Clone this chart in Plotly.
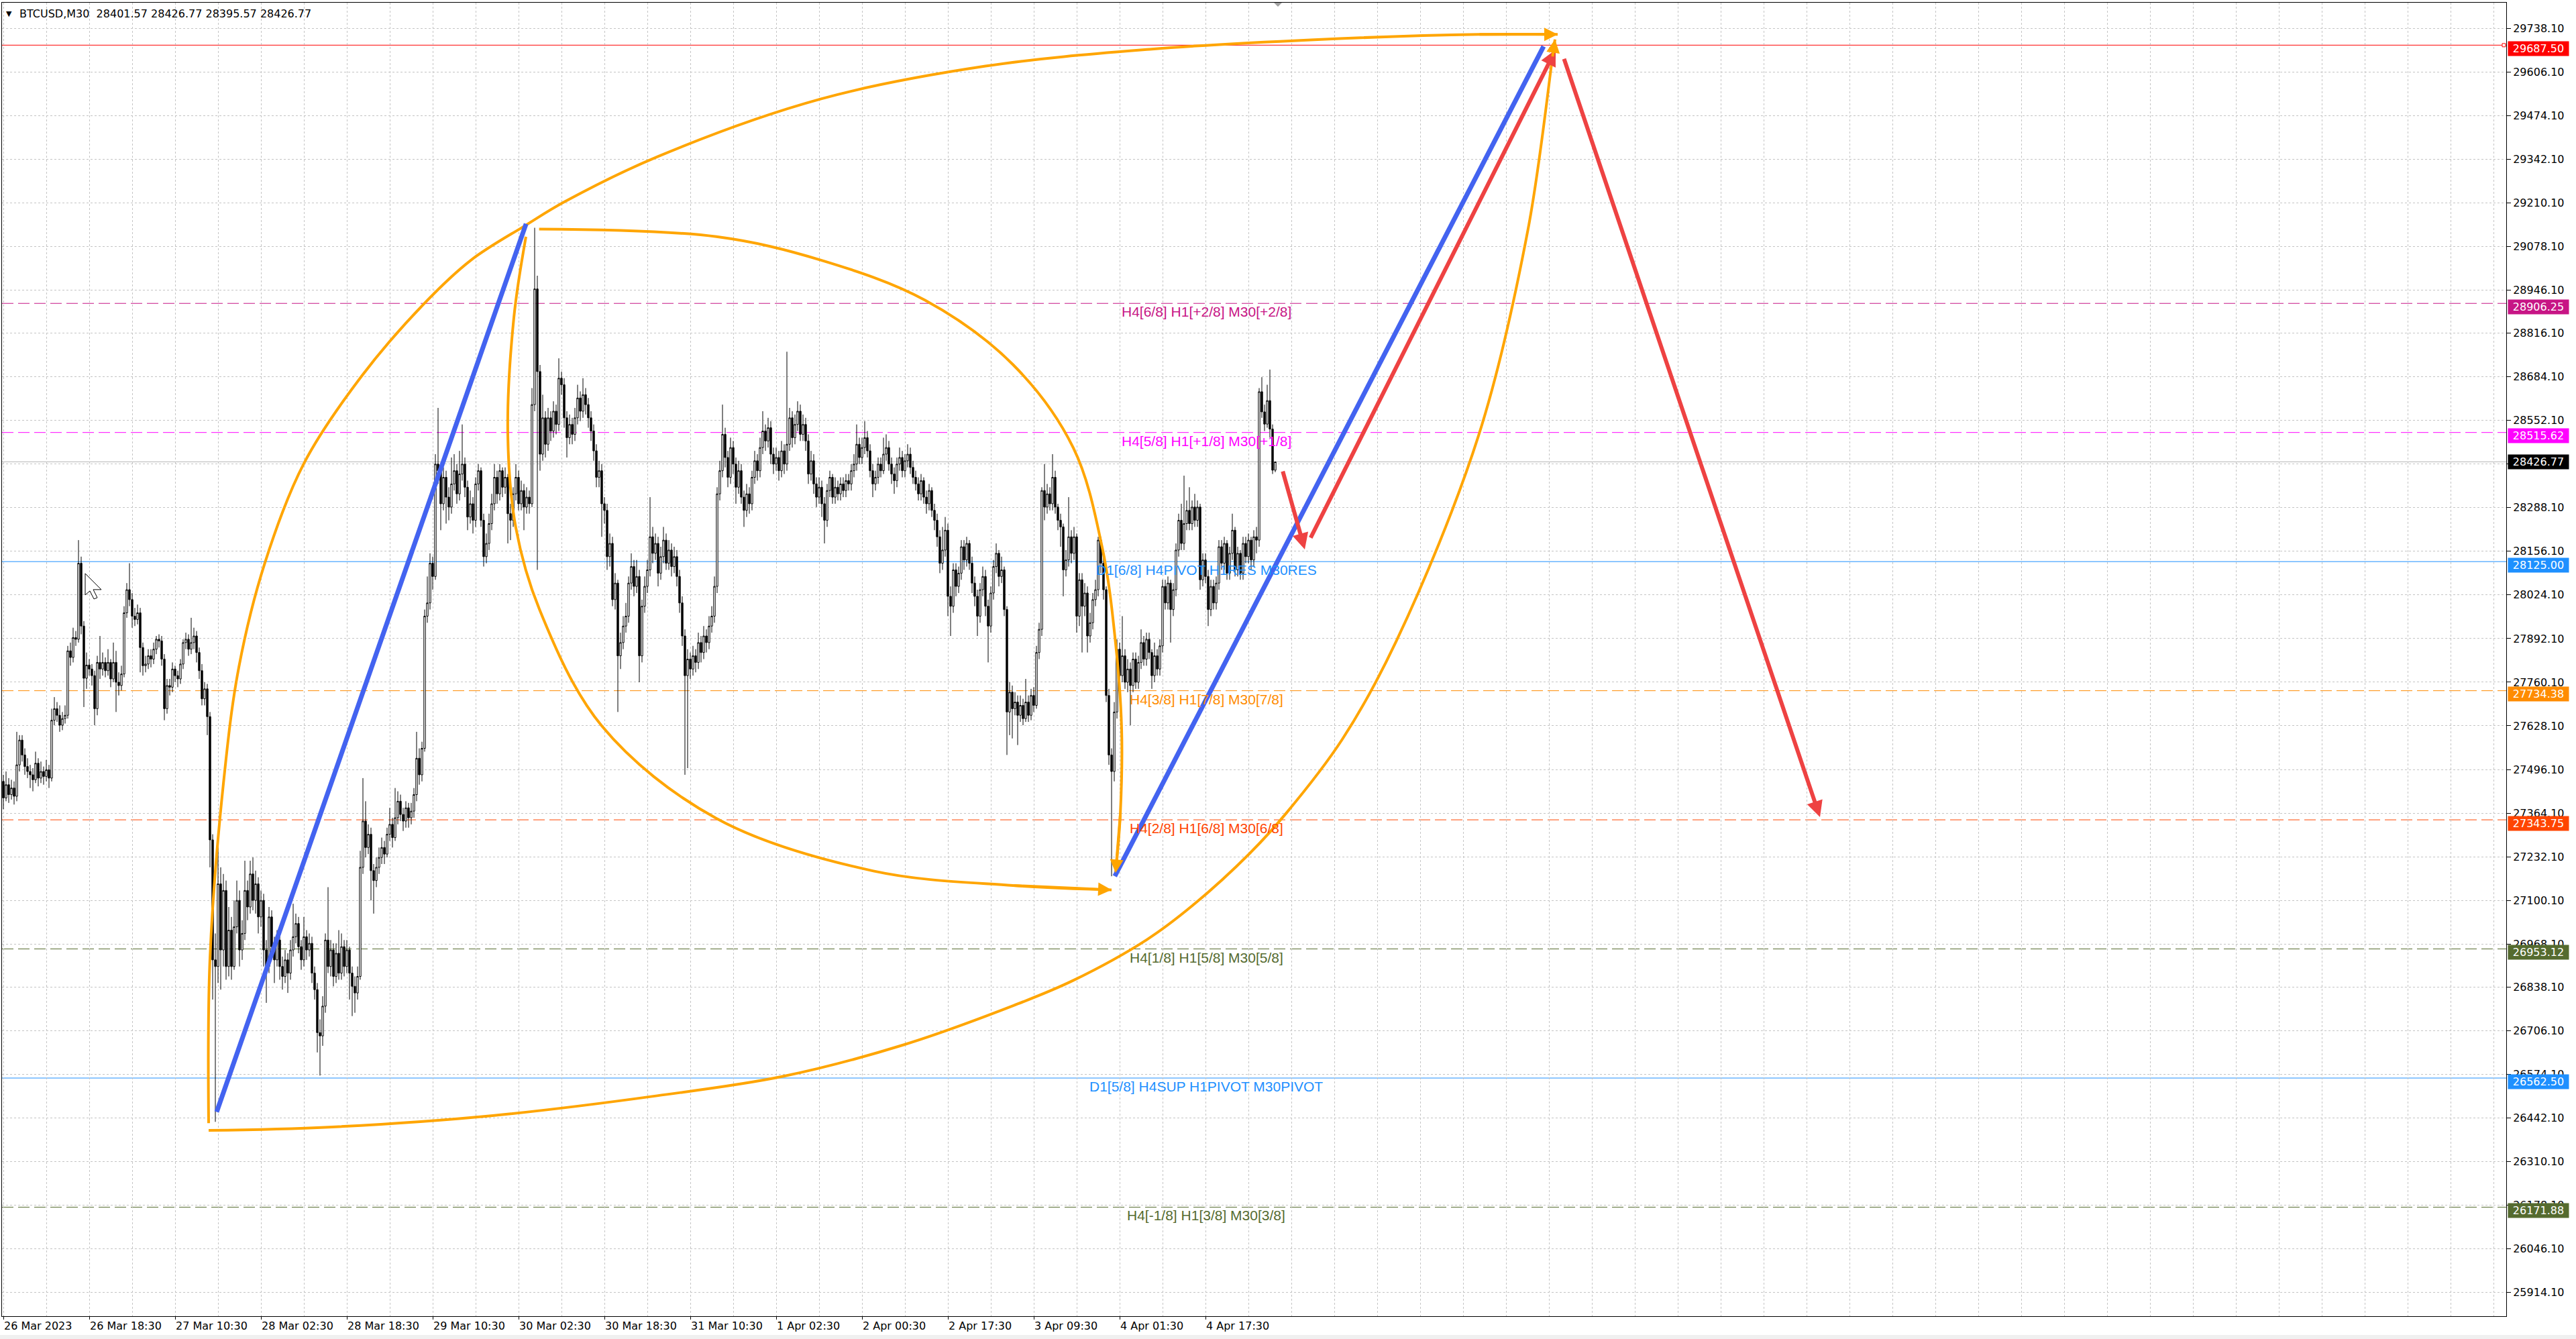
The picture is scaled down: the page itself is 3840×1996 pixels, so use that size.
import plotly.graph_objects as go

# ---------------- data (M30 bars, index 0 = first visible bar) ----------------
OPEN0 = 27460
CLOSE = [
    27410, 27450, 27420, 27440, 27415, 27510, 27585, 27540, 27505, 27490,
    27480, 27465, 27515, 27470, 27490, 27475, 27495, 27470, 27645, 27680,
    27660, 27630, 27650, 27660, 27855, 27835, 27895, 27890, 28120, 27930,
    27772, 27812, 27800, 27780, 27680, 27820, 27800, 27820, 27795, 27820,
    27770, 27820, 27760, 27750, 27785, 27970, 28040, 28010, 27960, 27950,
    27970, 27865, 27810, 27815, 27840, 27830, 27860, 27890, 27885, 27830,
    27680, 27750, 27745, 27800, 27780, 27770, 27815, 27880, 27890, 27860,
    27880, 27900, 27850, 27795, 27710, 27740, 27656, 27283, 26920, 26900,
    27150, 26950, 27130, 26900, 27010, 26900, 27020, 27100, 26950, 27000,
    27130, 27080, 27180, 27100, 27150, 27050, 27100, 26950, 26900, 27050,
    26960, 26920, 26980, 26900, 26870, 26920, 26880, 26950, 26990, 27030,
    26960, 26920, 26990, 26950, 26970, 26880, 26830, 26700, 26690, 26780,
    26980, 26900, 26950, 26870, 26940, 26880, 26960, 26900, 26950, 26880,
    26840, 26820, 26870, 27200, 27340, 27260, 27300, 27190, 27160, 27200,
    27230, 27260, 27240, 27300, 27330, 27290, 27350, 27400, 27360, 27340,
    27380, 27350, 27370, 27420, 27530, 27480, 27560, 27960, 28000, 28120,
    28080, 28420, 28400, 28300, 28380, 28320, 28290, 28360, 28400, 28330,
    28390, 28420, 28350, 28260, 28300, 28250, 28360, 28400, 28250, 28140,
    28180, 28240, 28300, 28380, 28330, 28400, 28350, 28380, 28270, 28250,
    28330, 28380, 28300, 28340, 28290, 28320, 28300, 28600, 28950, 28700,
    28450, 28560, 28480, 28560, 28520, 28580, 28540, 28680, 28660, 28560,
    28500, 28540, 28510, 28560, 28620, 28580, 28630, 28600, 28560, 28520,
    28460, 28380, 28400, 28300, 28280, 28140, 28180, 28010, 28060, 27840,
    27880, 27930, 27960, 28060, 28110, 28050, 28080, 27840, 27990, 28050,
    28100, 28200, 28150, 28180, 28090, 28140, 28190, 28120, 28160, 28110,
    28140, 28080, 28000, 27900, 27780, 27830, 27800, 27840, 27820, 27880,
    27850, 27900, 27880, 27930, 27960, 28050, 28330, 28400, 28510, 28440,
    28380, 28470, 28420, 28350, 28400, 28320, 28280, 28330, 28300, 28380,
    28430, 28400, 28470, 28520, 28490, 28530, 28450, 28420, 28440, 28400,
    28460, 28420, 28480, 28560, 28500, 28540, 28580, 28510, 28540, 28490,
    28390, 28430, 28360, 28320, 28350, 28300, 28250, 28340, 28380, 28320,
    28350, 28330, 28360, 28340, 28370, 28360, 28400, 28420, 28480, 28440,
    28470, 28500, 28460, 28400, 28360, 28380, 28420, 28400, 28450, 28470,
    28420, 28390, 28370, 28420, 28440, 28400, 28430, 28450, 28410, 28380,
    28360, 28330, 28370, 28320, 28300, 28340, 28280, 28250, 28200, 28120,
    28160, 28220, 28020, 27990, 28100, 28050, 28090, 28170, 28130, 28180,
    28120, 28060, 28020, 27960, 28040, 28080, 27990, 27930, 28030, 28110,
    28150, 28080, 28100, 27980, 27670, 27730, 27680, 27700, 27660, 27690,
    27650, 27700, 27660, 27720, 27690, 27850, 27920, 28340, 28290, 28330,
    28300, 28380, 28290, 28250, 28230, 28100, 28130, 28200, 28150, 28200,
    27960, 28070, 27990, 28030, 27900, 27940, 28010, 28040, 28190, 28120,
    28040, 27720, 27540, 27490, 27670, 27860, 27780, 27840, 27760, 27800,
    27750, 27830, 27760, 27820, 27880, 27830, 27890, 27850, 27780, 27840,
    27800, 27870, 28050, 28000, 28060, 27980, 28040, 28160, 28250, 28180,
    28240, 28280, 28240, 28290, 28250, 28290, 28070, 28130, 28080, 27980,
    28050, 28000, 28060, 28170, 28120, 28180, 28090, 28150, 28220, 28100,
    28150, 28090, 28180, 28140, 28190, 28130, 28200, 28190, 28639, 28578,
    28541, 28612, 28526, 28401.57, 28426.77,
]
HIGH = [
    27480, 27490, 27470, 27465, 27460, 27610, 27600, 27600, 27560, 27530,
    27510, 27500, 27550, 27530, 27520, 27505, 27525, 27510, 27680, 27715,
    27700, 27690, 27670, 27690, 27870, 27880, 27925, 27915, 28190, 28140,
    27945, 27850, 27830, 27815, 27795, 27840, 27900, 27850, 27835, 27860,
    27830, 27880, 27855, 27790, 27810, 27990, 28060, 28120, 28030, 27985,
    27995, 27985, 27880, 27840, 27860, 27860, 27880, 27900, 27905, 27900,
    27845, 27770, 27770, 27820, 27810, 27795, 27830, 27890, 27910, 27905,
    27955, 27925, 27915, 27865, 27815, 27760, 27755, 27670, 27300, 27000,
    27270, 27200, 27180, 27160, 27080, 27050, 27100, 27160, 27130, 27040,
    27220, 27160, 27220, 27230, 27190, 27170, 27130, 27120, 26980, 27080,
    27070, 26990, 27010, 27000, 26930, 26950, 26940, 26980, 27090, 27060,
    27050, 26980, 27050, 27010, 27000, 26990, 26900, 26850, 26740, 26810,
    27000, 27140, 26980, 26970, 26970, 27010, 27000, 26980, 26980, 26960,
    26900, 26870, 26900, 27250, 27470, 27400, 27330, 27320, 27210, 27230,
    27260, 27290, 27280, 27320, 27380, 27350, 27440, 27430, 27420, 27380,
    27400, 27395, 27395, 27440, 27610, 27560, 27580, 27980, 28080, 28150,
    28140, 28450, 28590, 28420, 28410, 28400, 28350, 28440, 28450, 28420,
    28460, 28540, 28440, 28370, 28340, 28320, 28380, 28420, 28410, 28270,
    28210, 28270, 28330, 28420, 28400, 28420, 28410, 28410, 28390, 28300,
    28350, 28420, 28400, 28370, 28360, 28350, 28340, 28650, 29135, 28990,
    28720, 28630, 28580, 28590, 28580, 28610, 28600, 28740, 28700, 28680,
    28580, 28570, 28560, 28590, 28660, 28640, 28680, 28650, 28620, 28580,
    28540, 28480, 28430, 28420, 28320, 28300, 28210, 28200, 28090, 28070,
    27910, 27960, 28000, 28080, 28150, 28130, 28130, 28100, 28010, 28080,
    28130, 28320, 28230, 28210, 28200, 28170, 28230, 28210, 28190, 28180,
    28170, 28160, 28100, 28020, 27920, 27860, 27850, 27870, 27860, 27910,
    27900, 27930, 27920, 27960, 27990, 28080, 28350, 28430, 28600, 28530,
    28460, 28500, 28490, 28440, 28430, 28420, 28340, 28360, 28350, 28400,
    28460, 28450, 28500, 28580, 28540, 28560, 28550, 28470, 28470, 28460,
    28490, 28480, 28760, 28590, 28580, 28570, 28610, 28600, 28570, 28560,
    28510, 28460, 28450, 28380, 28380, 28370, 28320, 28360, 28400, 28390,
    28380, 28370, 28380, 28380, 28390, 28390, 28420, 28450, 28540, 28500,
    28500, 28550, 28520, 28480, 28420, 28400, 28440, 28440, 28500, 28510,
    28490, 28440, 28410, 28440, 28470, 28460, 28450, 28480, 28470, 28430,
    28400, 28380, 28390, 28380, 28340, 28360, 28350, 28300, 28270, 28220,
    28230, 28260, 28240, 28050, 28120, 28120, 28110, 28190, 28190, 28200,
    28190, 28140, 28080, 28040, 28060, 28110, 28100, 28010, 28050, 28130,
    28180, 28160, 28140, 28110, 27990, 27760, 27750, 27730, 27720, 27720,
    27710, 27770, 27720, 27740, 27745, 27870, 27940, 28350, 28420, 28360,
    28350, 28450, 28400, 28300, 28270, 28240, 28160, 28320, 28220, 28230,
    28210, 28090, 28090, 28060, 28050, 27970, 28030, 28070, 28200, 28200,
    28140, 28050, 27740, 27560, 27700, 27890, 27880, 27960, 27860, 27830,
    27820, 27850, 27850, 27840, 27920, 27900, 27910, 27910, 27860, 27880,
    27860, 27890, 28070, 28070, 28080, 28070, 28060, 28180, 28270, 28300,
    28385, 28310, 28350, 28310, 28330, 28310, 28300, 28150, 28150, 28100,
    28070, 28070, 28080, 28190, 28190, 28200, 28190, 28170, 28270, 28230,
    28170, 28160, 28200, 28200, 28210, 28200, 28220, 28230, 28650, 28683,
    28600, 28660, 28706, 28540, 28426.77,
]
LOW = [
    27376, 27400, 27395, 27405, 27390, 27400, 27490, 27520, 27480, 27470,
    27440, 27430, 27455, 27445, 27455, 27450, 27460, 27440, 27460, 27630,
    27640, 27610, 27615, 27635, 27650, 27810, 27820, 27870, 27880, 27905,
    27685, 27740, 27780, 27750, 27630, 27660, 27770, 27780, 27775, 27780,
    27745, 27760, 27670, 27720, 27735, 27775, 27955, 27990, 27925, 27930,
    27935, 27790, 27780, 27790, 27800, 27805, 27815, 27845, 27865, 27810,
    27645, 27665, 27720, 27730, 27760, 27745, 27755, 27800, 27860, 27840,
    27845, 27860, 27820, 27770, 27690, 27690, 27600, 27200, 26800, 26430,
    26850, 26830, 26900, 26860, 26870, 26860, 26890, 27000, 26900, 26920,
    26980, 27040, 27060, 27070, 27060, 27000, 27020, 26900, 26790, 26880,
    26930, 26850, 26900, 26860, 26830, 26850, 26820, 26860, 26930, 26970,
    26940, 26890, 26900, 26920, 26930, 26850, 26800, 26640, 26570, 26660,
    26760, 26880, 26870, 26840, 26850, 26860, 26860, 26870, 26880, 26800,
    26750, 26760, 26800, 26860, 27180, 27230, 27240, 27100, 27060, 27140,
    27180, 27210, 27210, 27230, 27280, 27260, 27280, 27330, 27340, 27310,
    27320, 27320, 27330, 27350, 27400, 27450, 27460, 27550, 27940, 27980,
    28040, 28070, 28360, 28220, 28280, 28240, 28250, 28270, 28340, 28300,
    28310, 28370, 28320, 28220, 28240, 28210, 28230, 28340, 28230, 28110,
    28120, 28160, 28220, 28280, 28300, 28310, 28320, 28330, 28180, 28190,
    28230, 28310, 28280, 28280, 28220, 28270, 28270, 28290, 28580, 28100,
    28400, 28430, 28440, 28460, 28490, 28500, 28510, 28520, 28630, 28530,
    28440, 28480, 28480, 28490, 28540, 28550, 28560, 28570, 28530, 28490,
    28430, 28350, 28350, 28200, 28240, 28100, 28110, 27990, 27980, 27670,
    27800, 27860, 27910, 27940, 28040, 28020, 28030, 27760, 27820, 27970,
    28030, 28080, 28120, 28130, 28050, 28070, 28120, 28100, 28100, 28080,
    28090, 28050, 27970, 27870, 27480, 27500, 27770, 27780, 27790, 27800,
    27820, 27830, 27850, 27860, 27910, 27940, 28030, 28310, 28380, 28410,
    28350, 28360, 28390, 28300, 28330, 28300, 28230, 28260, 28270, 28280,
    28360, 28370, 28380, 28450, 28460, 28470, 28420, 28390, 28400, 28370,
    28380, 28390, 28400, 28460, 28470, 28480, 28520, 28490, 28490, 28460,
    28360, 28370, 28330, 28290, 28300, 28260, 28180, 28230, 28320, 28300,
    28300, 28310, 28310, 28320, 28320, 28340, 28340, 28380, 28400, 28420,
    28420, 28450, 28440, 28380, 28320, 28340, 28360, 28380, 28390, 28430,
    28400, 28360, 28330, 28350, 28400, 28380, 28380, 28410, 28390, 28360,
    28340, 28310, 28310, 28300, 28270, 28280, 28260, 28220, 28170, 28090,
    28100, 28140, 27960, 27900, 27970, 28020, 28030, 28070, 28100, 28110,
    28100, 28030, 27990, 27900, 27940, 28020, 27960, 27820, 27910, 28010,
    28090, 28050, 28060, 27960, 27540, 27600, 27590, 27660, 27570, 27640,
    27630, 27640, 27640, 27645, 27670, 27680, 27830, 27900, 28250, 28270,
    28280, 28280, 28270, 28220, 28170, 28020, 28080, 28110, 28120, 28130,
    27910, 27930, 27850, 27960, 27850, 27880, 27920, 27990, 28020, 28090,
    28010, 27700, 27510, 27173, 27460, 27650, 27750, 27760, 27740, 27730,
    27630, 27730, 27740, 27740, 27800, 27810, 27810, 27830, 27740, 27760,
    27780, 27780, 27850, 27980, 27980, 27880, 27960, 28020, 28140, 28160,
    28160, 28220, 28220, 28220, 28230, 28230, 28040, 28050, 28060, 27930,
    27960, 27980, 27980, 28040, 28100, 28100, 28070, 28070, 28130, 28080,
    28080, 28070, 28070, 28120, 28120, 28100, 28110, 28150, 28170, 28560,
    28520, 28530, 28500, 28390, 28395.57,
]
assert len(CLOSE) == len(HIGH) == len(LOW)

HEADER = "BTCUSD,M30\u00a0\u00a028401.57 28426.77 28395.57 28426.77"
LAST_PRICE = 28426.77

X_TICK_BARS = [0, 32, 64, 96, 128, 160, 192, 224, 256, 288, 320, 352, 384, 416, 448]
X_TICK_TEXT = ["26 Mar 2023", "26 Mar 18:30", "27 Mar 10:30", "28 Mar 02:30", "28 Mar 18:30",
               "29 Mar 10:30", "30 Mar 02:30", "30 Mar 18:30", "31 Mar 10:30", "1 Apr 02:30",
               "2 Apr 00:30", "2 Apr 17:30", "3 Apr 09:30", "4 Apr 01:30", "4 Apr 17:30"]
Y_TICKS = [29738.10, 29606.10, 29474.10, 29342.10, 29210.10, 29078.10, 28946.10, 28816.10,
           28684.10, 28552.10, 28420.10, 28288.10, 28156.10, 28024.10, 27892.10, 27760.10,
           27628.10, 27496.10, 27364.10, 27232.10, 27100.10, 26968.10, 26838.10, 26706.10,
           26574.10, 26442.10, 26310.10, 26178.10, 26046.10, 25914.10]

LEVEL_PRICES = [29687.50, 28906.25, 28515.62, 28125.00, 27734.38, 27343.75, 26953.12, 26562.50, 26171.88]
LEVEL_COLORS = ["#FF0000", "#C71585", "#FF00FF", "#1E90FF", "#FF8C00", "#FF4500", "#556B2F", "#1E90FF", "#556B2F"]
LEVEL_SOLID = [True, False, False, True, False, False, False, True, False]
LEVEL_TEXT = ["", "H4[6/8] H1[+2/8] M30[+2/8]", "H4[5/8] H1[+1/8] M30[+1/8]",
              "D1[6/8] H4PIVOT H1RES M30RES", "H4[3/8] H1[7/8] M30[7/8]", "H4[2/8] H1[6/8] M30[6/8]",
              "H4[1/8] H1[5/8] M30[5/8]", "D1[5/8] H4SUP H1PIVOT M30PIVOT", "H4[-1/8] H1[3/8] M30[3/8]"]
LEVEL_TEXT_BAR = 448.25

# hand-drawn objects (bar index, price)
BLUE_X = [[79.5, 194.8], [414.2, 574.0]]
BLUE_Y = [[26460, 29147], [27173, 29684]]
RED_X = [[476.7, 485.0], [487.0, 578.5], [581.5, 677.0]]
RED_Y = [[28401, 28162], [28194, 29674], [29649, 27352]]
ARC_OUTER_UP_X = [76.5, 77, 82, 87.75, 97.5, 112, 133.5, 156.75, 174.25, 194.75, 209.25, 243.75,
                  304.75, 366, 427.25, 488.5, 549.75, 579.25]
ARC_OUTER_UP_Y = [26426, 26925, 27453, 27805, 28122, 28422, 28686, 28905, 29037, 29143, 29214, 29350,
                  29525, 29624, 29675, 29704, 29720, 29720]
ARC_OUTER_LOW_X = [76.5, 121.2, 182.4, 243.65, 290.8, 335.5, 376.5, 398.5, 426.1, 443.25, 464.7, 478.1,
                   498.95, 519.2, 549.8, 568.15, 577.3, 578.25]
ARC_OUTER_LOW_Y = [26404, 26414, 26449, 26509, 26568, 26663, 26782, 26857, 26981, 27085, 27244, 27364,
                   27587, 27886, 28507, 29128, 29650, 29705]
ARC_INNER_UP_X = [199.65, 265.75, 304.75, 343.5, 376.25, 398.75, 409.5, 414.5, 416.75, 416.25, 414.5]
ARC_INNER_UP_Y = [29131, 29108, 29037, 28916, 28721, 28469, 28168, 27878, 27618, 27360, 27183]
ARC_INNER_LOW_X = [194.75, 190.25, 188, 191, 199.75, 223, 265.75, 324.25, 376.25, 413]
ARC_INNER_LOW_Y = [29108, 28863, 28509, 28227, 27981, 27628, 27348, 27189, 27145, 27132]
CURSOR_BAR, CURSOR_PRICE = 30.5, 28089

# ---------------- figure ----------------
W, H = 3840, 1996
ML, MR, MT, MB = 3, 104, 4, 34
Y_RANGE = [25842, 29816]
X_RANGE = [-0.5, 932.75]
PPU_Y = (H - MT - MB) / (Y_RANGE[1] - Y_RANGE[0])
PPU_X = (W - ML - MR) / (X_RANGE[1] - X_RANGE[0])

bars = list(range(len(CLOSE)))
opens = [OPEN0] + CLOSE[:-1]
highs = [max(h, o, c) for h, o, c in zip(HIGH, opens, CLOSE)]
lows = [min(l, o, c) for l, o, c in zip(LOW, opens, CLOSE)]

fig = go.Figure()
fig.add_trace(go.Candlestick(
    x=bars, open=opens, high=highs, low=lows, close=CLOSE,
    increasing=dict(line=dict(color="black", width=1), fillcolor="white"),
    decreasing=dict(line=dict(color="black", width=1), fillcolor="black"),
    whiskerwidth=0, hoverinfo="skip", showlegend=False,
))

ORANGE = "#FFA500"
for xs, ys in [(ARC_OUTER_UP_X, ARC_OUTER_UP_Y), (ARC_OUTER_LOW_X, ARC_OUTER_LOW_Y),
               (ARC_INNER_UP_X, ARC_INNER_UP_Y), (ARC_INNER_LOW_X, ARC_INNER_LOW_Y)]:
    fig.add_trace(go.Scatter(x=xs, y=ys, mode="lines",
                             line=dict(color=ORANGE, width=4, shape="spline", smoothing=1.0),
                             hoverinfo="skip", showlegend=False))

BLUE = "#4363F0"
for xs, ys in zip(BLUE_X, BLUE_Y):
    fig.add_trace(go.Scatter(x=xs, y=ys, mode="lines", line=dict(color=BLUE, width=7),
                             hoverinfo="skip", showlegend=False))

shapes = []
annotations = []

# level lines
for p, c, solid in zip(LEVEL_PRICES, LEVEL_COLORS, LEVEL_SOLID):
    shapes.append(dict(type="line", xref="paper", x0=0, x1=1, yref="y", y0=p, y1=p,
                       line=dict(color=c, width=1, dash="solid" if solid else "17px,7px"), layer="below"))
shapes.append(dict(type="line", xref="paper", x0=0, x1=1, yref="y", y0=LAST_PRICE, y1=LAST_PRICE,
                   line=dict(color="#B8B8B8", width=1), layer="below"))
# small square at the end of the red line
shapes.append(dict(type="rect", xref="paper", xsizemode="pixel", xanchor=1, x0=-6, x1=-1,
                   yref="y", ysizemode="pixel", yanchor=LEVEL_PRICES[0], y0=-2.5, y1=2.5,
                   line=dict(color="#FF0000", width=1), fillcolor="white"))

for p, c, t in zip(LEVEL_PRICES, LEVEL_COLORS, LEVEL_TEXT):
    if t:
        annotations.append(dict(x=LEVEL_TEXT_BAR, y=p, xref="x", yref="y", text=t, showarrow=False,
                                xanchor="center", yanchor="top", yshift=1,
                                font=dict(family="Liberation Sans, Arial", size=21, color=c)))
    annotations.append(dict(x=1, y=p, xref="paper", yref="y", text=f"{p:.2f}", showarrow=False,
                            xanchor="left", yanchor="middle", xshift=2, yshift=-5, width=90, height=21,
                            bgcolor=c, borderpad=0, align="center",
                            font=dict(family="DejaVu Sans", size=16, color="white")))
annotations.append(dict(x=1, y=LAST_PRICE, xref="paper", yref="y", text=f"{LAST_PRICE:.2f}", showarrow=False,
                        xanchor="left", yanchor="middle", xshift=2, width=90, height=21,
                        bgcolor="black", borderpad=0, align="center",
                        font=dict(family="DejaVu Sans", size=16, color="white")))

# red arrows
RED = "#EE4242"
for xs, ys in zip(RED_X, RED_Y):
    annotations.append(dict(x=xs[1], y=ys[1], ax=xs[0], ay=ys[0], xref="x", yref="y", axref="x", ayref="y",
                            text="", showarrow=True, arrowhead=2, arrowsize=0.8, arrowwidth=6,
                            arrowcolor=RED, standoff=0))
# orange arrowheads at the ends of the curves
for xs, ys in [(ARC_OUTER_UP_X, ARC_OUTER_UP_Y), (ARC_OUTER_LOW_X, ARC_OUTER_LOW_Y),
               (ARC_INNER_UP_X, ARC_INNER_UP_Y), (ARC_INNER_LOW_X, ARC_INNER_LOW_Y)]:
    annotations.append(dict(x=xs[-1], y=ys[-1], ax=xs[-2], ay=ys[-2], xref="x", yref="y", axref="x", ayref="y",
                            text="", showarrow=True, arrowhead=2, arrowsize=1.0, arrowwidth=4,
                            arrowcolor=ORANGE, standoff=0))

# header
annotations.append(dict(x=0, y=1, xref="paper", yref="paper", xanchor="left", yanchor="middle",
                        xshift=4, yshift=-16, text="\u25BC", showarrow=False,
                        font=dict(family="DejaVu Sans", size=11, color="black")))
annotations.append(dict(x=0, y=1, xref="paper", yref="paper", xanchor="left", yanchor="middle",
                        xshift=24, yshift=-16, text=HEADER, showarrow=False,
                        font=dict(family="DejaVu Sans", size=16, color="black")))

# chart-shift marker at the top edge
shapes.append(dict(type="path", xref="x", yref="paper",
                   path=f"M {len(CLOSE)-1.5},1 L {len(CLOSE)+1.5},1 L {len(CLOSE)},{1-6/(H-MT-MB)} Z",
                   fillcolor="#A0A0A0", line=dict(width=0)))

# mouse cursor
cur_px = [(0, 0), (0, 32), (7, 26), (13, 38), (18, 36), (12, 24), (24, 24)]
cur_path = "M " + " L ".join(f"{CURSOR_BAR + dx / PPU_X},{CURSOR_PRICE - dy / PPU_Y}" for dx, dy in cur_px) + " Z"
shapes.append(dict(type="path", xref="x", yref="y", path=cur_path, fillcolor="white",
                   line=dict(color="black", width=1)))

# light gray strip at the very bottom of the window
shapes.append(dict(type="rect", xref="paper", yref="paper", x0=-0.01, x1=1.05,
                   y0=-(MB) / (H - MT - MB), y1=-(MB - 6) / (H - MT - MB),
                   fillcolor="#F0F0F0", line=dict(width=0), layer="below"))

fig.update_layout(
    template="none",
    width=W, height=H,
    margin=dict(l=ML, r=MR, t=MT, b=MB, pad=0),
    paper_bgcolor="white", plot_bgcolor="white",
    showlegend=False,
    boxgap=0.15,
    shapes=shapes, annotations=annotations,
    xaxis=dict(
        range=X_RANGE, autorange=False, rangeslider=dict(visible=False),
        tickmode="array", tickvals=X_TICK_BARS, ticktext=X_TICK_TEXT,
        ticks="outside", ticklen=4, tickcolor="black", tickwidth=1,
        ticklabelposition="outside right",
        tickfont=dict(family="DejaVu Sans", size=16, color="black"),
        showgrid=False, zeroline=False,
        minor=dict(tickmode="array", tickvals=list(range(0, 933, 16)), showgrid=True,
                   gridcolor="#C4C4C4", griddash="3px,3px", gridwidth=1, ticks=""),
        showline=True, linecolor="black", linewidth=1, mirror=True, automargin=False,
    ),
    yaxis=dict(
        range=Y_RANGE, autorange=False, side="right",
        tickmode="array", tickvals=Y_TICKS, ticktext=[f"{v:.2f}" for v in Y_TICKS],
        ticks="outside", ticklen=6, tickcolor="black", tickwidth=1,
        tickfont=dict(family="DejaVu Sans", size=16, color="black"),
        showgrid=True, gridcolor="#C4C4C4", griddash="3px,3px", gridwidth=1, zeroline=False,
        showline=True, linecolor="black", linewidth=1, mirror=True, automargin=False,
    ),
)

fig.write_html("out.html", include_plotlyjs=True, config={"displayModeBar": False},
               post_script="document.body.style.margin='0';document.body.style.overflow='hidden';")
